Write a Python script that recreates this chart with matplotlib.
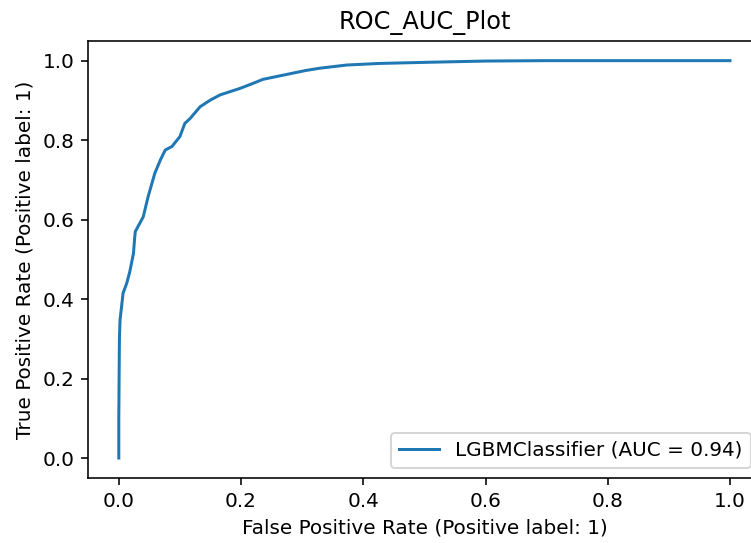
import matplotlib
matplotlib.use("Agg")
from matplotlib import pyplot as plt

# ROC curve points
fpr = [0.0, 0.0, 0.001, 0.002, 0.007, 0.013, 0.018, 0.024, 0.026, 0.027,
       0.040, 0.048, 0.059, 0.068, 0.076, 0.087, 0.100, 0.108, 0.117, 0.133,
       0.150, 0.166, 0.182, 0.198, 0.215, 0.236, 0.258, 0.280, 0.305, 0.329,
       0.373, 0.427, 0.509, 0.600, 0.700, 0.800, 1.0]
tpr = [0.0, 0.10, 0.30, 0.347, 0.415, 0.440, 0.469, 0.515, 0.555, 0.570,
       0.607, 0.658, 0.717, 0.750, 0.775, 0.784, 0.809, 0.842, 0.855, 0.884,
       0.901, 0.914, 0.922, 0.930, 0.940, 0.953, 0.960, 0.967, 0.975, 0.981,
       0.989, 0.993, 0.996, 0.999, 1.0, 1.0, 1.0]
model_name = "LGBMClassifier"
auc_value = 0.94

fig = plt.figure(figsize=(751 / 144, 543 / 144), dpi=144)
ax = fig.add_axes([0.1175, 0.1199, 0.8952, 0.805])

ax.plot(fpr, tpr, label="%s (AUC = %.2f)" % (model_name, auc_value))
ax.set_xlim(-0.05, 1.05)
ax.set_ylim(-0.05, 1.05)
ax.set_xlabel("False Positive Rate (Positive label: 1)")
ax.set_ylabel("True Positive Rate (Positive label: 1)")
ax.set_title("ROC_AUC_Plot")
ax.legend(loc="lower right")

fig.savefig("out.png", dpi=144)
